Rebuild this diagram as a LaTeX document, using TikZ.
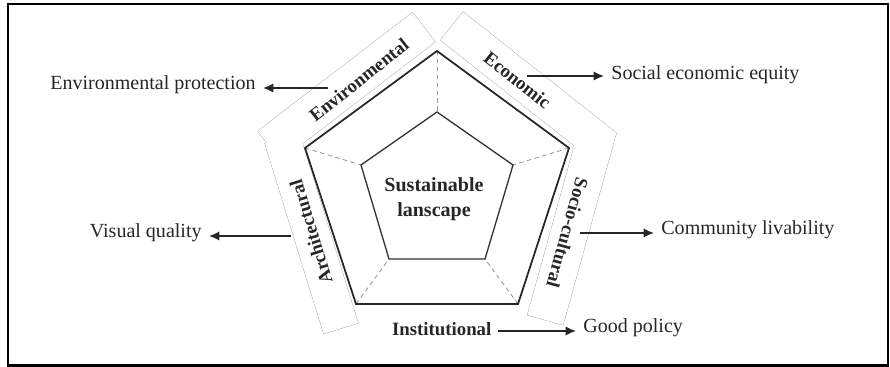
\documentclass[tikz,border=0pt]{standalone}
\usepackage{fontspec}
\setmainfont{Liberation Serif}
\usetikzlibrary{positioning}
\usetikzlibrary{arrows.meta}

\tikzset{
  facet/.style={draw=gray!75,line width=0.45pt},
  outerpent/.style={draw=black!85,line width=1pt,line join=miter},
  innerpent/.style={draw=black!80,line width=0.75pt},
  spoke/.style={draw=gray!80,dashed,line width=0.5pt,dash pattern=on 2.5pt off 2pt},
  outcome/.style={font=\fontsize{11.4}{13}\selectfont,text=black!85,inner sep=4pt},
  facetlabel/.style={font=\fontsize{10.7}{12}\selectfont\bfseries,text=black!85,inner sep=3pt},
  hub/.style={font=\fontsize{11.4}{14.2}\selectfont\bfseries,text=black!85,align=center},
  outarrow/.style={draw=black!85,line width=0.95pt,-{Latex[length=2.1mm,width=1.9mm]}},
}

% one rotated box: centre x, centre y, angle, length, width, options
\newcommand{\facetrect}[6]{\path[shift={(#1,#2)},rotate=#3,#6] (-#4/2,-#5/2) rectangle (#4/2,#5/2);}

\begin{document}
\begin{tikzpicture}[x=0.02cm,y=-0.02cm]
\useasboundingbox (0,0) rectangle (890,367);
\draw[black,line width=1.2pt] (8,4) rectangle (888,365.5);

% boxes round the pentagon: outlines first, then white fill so only the union outline stays
\facetrect{346.5}{86.5}{37.5}{195}{37}{facet}
\facetrect{528.8}{86.8}{-38.3}{196}{36}{facet}
\facetrect{311.5}{233.3}{-72.8}{199}{36}{facet}
\facetrect{571.7}{224.6}{74.5}{198}{37}{facet}
\facetrect{346.5}{86.5}{37.5}{195}{37}{fill=white}
\facetrect{528.8}{86.8}{-38.3}{196}{36}{fill=white}
\facetrect{311.5}{233.3}{-72.8}{199}{36}{fill=white}
\facetrect{571.7}{224.6}{74.5}{198}{37}{fill=white}

\coordinate (o1) at (437,51);
\coordinate (o2) at (305,148);
\coordinate (o3) at (356,304);
\coordinate (o4) at (518,304);
\coordinate (o5) at (569,148);
\coordinate (i1) at (437,112);
\coordinate (i2) at (361,165);
\coordinate (i3) at (389,259);
\coordinate (i4) at (485,259);
\coordinate (i5) at (513,165);

\draw[spoke] (o1) -- (i1);
\draw[spoke] (o2) -- (i2);
\draw[spoke] (o3) -- (i3);
\draw[spoke] (o4) -- (i4);
\draw[spoke] (o5) -- (i5);
\draw[outerpent] (o1) -- (o2) -- (o3) -- (o4) -- (o5) -- cycle;
\draw[innerpent] (i1) -- (i2) -- (i3) -- (i4) -- (i5) -- cycle;

\node[hub] (hub) at (434,199) {Sustainable\\lanscape};

\node[facetlabel,rotate=38.5] (envlbl) at (359,80) {Environmental};
\node[facetlabel,rotate=-38.5] (ecolbl) at (517.5,80) {Economic};
\node[facetlabel,rotate=107] (archlbl) at (311,232) {Architectural};
\node[facetlabel,rotate=-105.5] (soclbl) at (567.5,233) {Socio-cultural};
\node[facetlabel,anchor=base east] (instlbl) at (497,336) {Institutional};

\node[outcome,anchor=base east] (envout) at (263,90) {Environmental protection};
\node[outcome,anchor=base west] (ecoout) at (604,80) {Social economic equity};
\node[outcome,anchor=base east] (visout) at (209,238) {Visual quality};
\node[outcome,anchor=base west] (comout) at (654,235) {Community livability};
\node[outcome,anchor=base west] (goodout) at (576,333) {Good policy};

\coordinate (envtail) at (328,88);
\coordinate (ecotail) at (527,76);
\coordinate (archtail) at (291,236);
\coordinate (soctail) at (580,233);
\coordinate (insttail) at (498,331);

\draw[outarrow] (envtail) -- (envtail -| envout.east);
\draw[outarrow] (ecotail) -- (ecotail -| ecoout.west);
\draw[outarrow] (archtail) -- (archtail -| visout.east);
\draw[outarrow] (soctail) -- (soctail -| comout.west);
\draw[outarrow] (insttail) -- (insttail -| goodout.west);

\end{tikzpicture}
\end{document}
